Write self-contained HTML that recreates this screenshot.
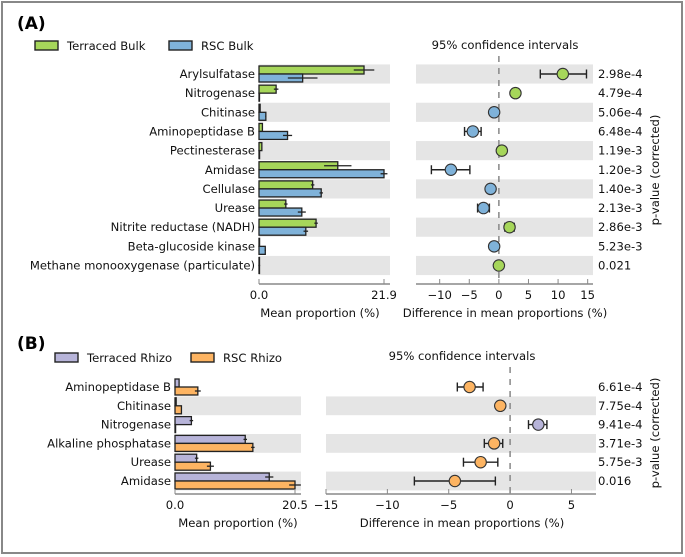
<!DOCTYPE html>
<html><head><meta charset="utf-8"><style>
html,body{margin:0;padding:0;background:#fff}
svg{display:block;font-family:"DejaVu Sans","Liberation Sans",sans-serif}
</style></head><body>
<svg id="c" width="685" height="557" viewBox="0 0 685 557">
<rect x="2" y="2" width="680" height="551" fill="#fff" stroke="#888" stroke-width="2"/>
</svg>
<script>
// ---------- Panel A data ----------
const catsA = ["Arylsulfatase","Nitrogenase","Chitinase","Aminopeptidase B","Pectinesterase","Amidase","Cellulase","Urease","Nitrite reductase (NADH)","Beta-glucoside kinase","Methane monooxygenase (particulate)"];
const terracedBulk = [18.4,3.0,0.2,0.6,0.5,13.8,9.4,4.7,10.0,0.1,0.05];
const terracedBulkErr = [1.8,0.4,0,0,0,2.4,0.3,0.3,0.3,0,0];
const rscBulk = [7.65,0.05,1.2,5.0,0.1,21.9,10.9,7.5,8.2,1.1,0.05];
const rscBulkErr = [2.6,0,0.1,0.8,0,0.6,0.3,0.7,0.4,0.1,0];
const diffA = [10.8,2.8,-0.8,-4.4,0.5,-8.1,-1.4,-2.6,1.8,-0.8,0];
const diffALo = [7.0,2.2,-1.1,-5.8,0.3,-11.4,-2.0,-3.6,1.0,-1.2,-0.2];
const diffAHi = [14.8,3.4,-0.5,-3.0,0.7,-4.9,-0.8,-1.6,2.6,-0.4,0.2];
const pA = ["2.98e-4","4.79e-4","5.06e-4","6.48e-4","1.19e-3","1.20e-3","1.40e-3","2.13e-3","2.86e-3","5.23e-3","0.021"];
const ciTicksA = [-10,-5,0,5,10,15];
// ---------- Panel B data ----------
const catsB = ["Aminopeptidase B","Chitinase","Nitrogenase","Alkaline phosphatase","Urease","Amidase"];
const terracedRhizo = [0.7,0.2,2.8,12.0,3.7,16.1];
const terracedRhizoErr = [0,0,0.3,0.3,0.3,0.7];
const rscRhizo = [3.9,1.1,0.1,13.3,6.05,20.5];
const rscRhizoErr = [0.5,0,0,0.3,0.6,1.0];
const diffB = [-3.3,-0.8,2.3,-1.3,-2.4,-4.5];
const diffBLo = [-4.3,-1.0,1.5,-2.1,-3.8,-7.8];
const diffBHi = [-2.2,-0.6,3.0,-0.6,-1.0,-1.2];
const pB = ["6.61e-4","7.75e-4","9.41e-4","3.71e-3","5.75e-3","0.016"];
const ciTicksB = [-15,-10,-5,0,5];

const svg = document.getElementById('c');
const NS = "http://www.w3.org/2000/svg";
function mk(tag, attrs, parent){
  const e = document.createElementNS(NS, tag);
  for (const k in attrs) e.setAttribute(k, attrs[k]);
  (parent||svg).appendChild(e); return e;
}
function txt(x,y,s,attrs){
  const t = mk('text', Object.assign({x:x,y:y,'font-size':11.6,fill:'#111'}, attrs||{}));
  t.textContent = s; return t;
}

function panel(o){
  const g = mk('g', {});
  
  
  const xb = v => o.bx0 + (v/o.bmax)*(o.bx1-o.bx0);
  const xc = v => o.cx0 + (v-o.cmin)/(o.cmax-o.cmin)*(o.cx1-o.cx0);
  const yc = i => o.y0 + i*o.step;
  const lab = txt(17, o.labelY, o.label, {'font-size':17,'font-weight':'bold',fill:'#000'});
  
  
  o.legend.forEach((L,k)=>{
    const r = mk('rect', {x:L.x, y:o.legY-4, width:23, height:9, fill:L.color, stroke:'#222', 'stroke-width':1.4}, g);
    
    
    const t = txt(L.x+32, o.legY+5, L.text, {}); g.appendChild(t);
    
    
  });
  o.cats.forEach((c,i)=>{
    const y = yc(i);
    if (i%2===o.band){
      const b1 = mk('rect',{x:o.bx0,y:y-o.step/2,width:o.bandR-o.bx0,height:o.step,fill:'#e5e5e5'},g);
      
      
      const b2 = mk('rect',{x:o.cx0,y:y-o.step/2,width:o.cx1-o.cx0,height:o.step,fill:'#e5e5e5'},g);
      
      
    }
    const t = txt(o.bx0-4, y+4, c, {'text-anchor':'end'}); g.appendChild(t);
    
    
  });
  const z = mk('line',{x1:xc(0),x2:xc(0),y1:o.dashTop,y2:o.axisY,stroke:'#888','stroke-width':1.5,'stroke-dasharray':'6,6'},g);
  
  
  o.cats.forEach((c,i)=>{
    const y = yc(i), h = o.barH;
    const b1 = mk('rect',{x:o.bx0,y:y-h,width:Math.max(0.5,xb(o.s1[i])-o.bx0),height:h,fill:o.c1,stroke:'#222','stroke-width':1.3},g);
    
    
    const b2 = mk('rect',{x:o.bx0,y:y,width:Math.max(0.5,xb(o.s2[i])-o.bx0),height:h,fill:o.c2,stroke:'#222','stroke-width':1.3},g);
    
    
    [[o.s1[i],o.e1[i],y-h/2],[o.s2[i],o.e2[i],y+h/2]].forEach(([v,e,yy])=>{
      if(e>0){
        const l = mk('line',{x1:xb(v-e),x2:xb(v+e),y1:yy,y2:yy,stroke:'#222','stroke-width':1.3},g);
        
        
      }
    });
    const dv = o.d[i], col = dv>=0 ? o.c1 : o.c2;
    const ci = mk('line',{x1:xc(o.lo[i]),x2:xc(o.hi[i]),y1:y,y2:y,stroke:'#222','stroke-width':1.4},g);
    
    
    [o.lo[i],o.hi[i]].forEach(v=>{
      const cap = mk('line',{x1:xc(v),x2:xc(v),y1:y-4.5,y2:y+4.5,stroke:'#222','stroke-width':1.4},g);
      
      
    });
    const p = mk('circle',{cx:xc(dv),cy:y,r:5.7,fill:col,stroke:'#333','stroke-width':1.1},g);
    
    
    const pt = txt(o.pX, y+4, o.p[i], {}); g.appendChild(pt);
    
    
  });
  const ax = mk('line',{x1:o.bx0,x2:o.bandR,y1:o.axisY,y2:o.axisY,stroke:'#888','stroke-width':1.5},g);
  
  
  [[0,'0.0'],[o.bmax,o.bmax.toFixed(1)]].forEach(([v,s])=>{
    const tk = mk('line',{x1:xb(v),x2:xb(v),y1:o.axisY-5,y2:o.axisY,stroke:'#888','stroke-width':1},g);
    
    
    const tl = txt(xb(v), o.axisY+15, s, {'text-anchor':'middle'}); g.appendChild(tl);
    
    
  });
  const bl = txt(o.bLabX, o.axisY+33, 'Mean proportion (%)', {'text-anchor':'middle'}); g.appendChild(bl);
  
  
  const cax = mk('line',{x1:o.cx0,x2:o.cx1,y1:o.axisY,y2:o.axisY,stroke:'#888','stroke-width':1.5},g);
  
  
  o.ticks.forEach(v=>{
    const tk = mk('line',{x1:xc(v),x2:xc(v),y1:o.axisY-5,y2:o.axisY,stroke:'#888','stroke-width':1},g);
    
    
    const tl = txt(xc(v), o.axisY+15, (v<0?'\u2212'+(-v):String(v)), {'text-anchor':'middle'}); g.appendChild(tl);
    
    
  });
  const cl = txt(o.cLabX, o.axisY+33, 'Difference in mean proportions (%)', {'text-anchor':'middle'}); g.appendChild(cl);
  
  
  const ct = txt(o.cTitleX, o.cTitleY, '95% confidence intervals', {'text-anchor':'middle'}); g.appendChild(ct);
  
  
  const yl = txt(0,0,'p-value (corrected)',{'text-anchor':'middle',transform:`translate(${o.yLabX},${o.yLabY}) rotate(-90)`}); g.appendChild(yl);
  
  
}

panel({name:'panel-a',label:'(A)',labelY:29,legY:45,
  legend:[{x:35,color:'#a6d65a',text:'Terraced Bulk'},{x:169,color:'#7fb2d9',text:'RSC Bulk'}],
  cats:catsA,s1:terracedBulk,e1:terracedBulkErr,s2:rscBulk,e2:rscBulkErr,d:diffA,lo:diffALo,hi:diffAHi,p:pA,ticks:ciTicksA,
  c1:'#a6d65a',c2:'#7fb2d9',k1:'terraced-bulk',k2:'rsc-bulk',
  bx0:259,bx1:384,bmax:21.9,bandR:390,cx0:416,cx1:593,cmin:-14.0,cmax:15.9,
  y0:74,step:19.15,barH:8,band:0,axisY:284,dashTop:56,pX:598,
  bLabX:320,cLabX:505,cTitleX:505,cTitleY:49,yLabX:659,yLabY:170});
panel({name:'panel-b',label:'(B)',labelY:349,legY:357,
  legend:[{x:55,color:'#b7b4d9',text:'Terraced Rhizo'},{x:191,color:'#fdb462',text:'RSC Rhizo'}],
  cats:catsB,s1:terracedRhizo,e1:terracedRhizoErr,s2:rscRhizo,e2:rscRhizoErr,d:diffB,lo:diffBLo,hi:diffBHi,p:pB,ticks:ciTicksB,
  c1:'#b7b4d9',c2:'#fdb462',k1:'terraced-rhizo',k2:'rsc-rhizo',
  bx0:175,bx1:295,bmax:20.5,bandR:301,cx0:326,cx1:596,cmin:-15,cmax:7.0,
  y0:387,step:18.8,barH:8,band:1,axisY:494,dashTop:367,pX:598,
  bLabX:238,cLabX:462,cTitleX:462,cTitleY:360,yLabX:659,yLabY:433});
</script>
</body></html>
